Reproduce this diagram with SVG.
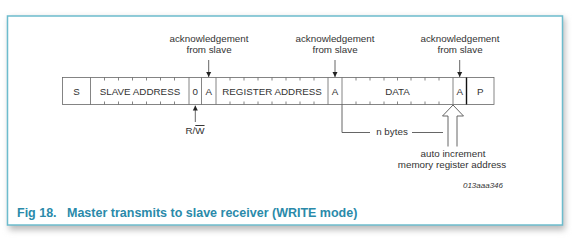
<svg xmlns="http://www.w3.org/2000/svg" width="580" height="239" viewBox="0 0 580 239">
<defs>
<style>
.t{font-family:"Liberation Sans",Arial,sans-serif;font-size:9.8px;fill:#333;text-anchor:middle}
.cell{fill:none;stroke:#666;stroke-width:0.8}
.tick{stroke:#666;stroke-width:0.8}
.ln{stroke:#555;stroke-width:0.9;fill:none}
.cap{font-family:"Liberation Sans",Arial,sans-serif;font-size:12.5px;font-weight:bold;fill:#2a8aaa}
</style>
<marker id="ah" viewBox="0 0 10 10" refX="10" refY="5" markerWidth="5" markerHeight="6" orient="auto" markerUnits="userSpaceOnUse">
<path d="M0,0 L10,5 L0,10 z" fill="#222"/>
</marker>
<filter id="sh" x="-5%" y="-5%" width="110%" height="115%">
<feGaussianBlur stdDeviation="3"/>
</filter>
</defs>
<rect width="580" height="239" fill="#fff"/>
<rect x="9" y="18" width="556" height="212" fill="#bbb" filter="url(#sh)"/>
<rect x="7.5" y="16" width="555" height="209" fill="#fff" stroke="#6cbccd" stroke-width="1.5"/>

<g id="packet">
<rect class="cell" x="62.5" y="77.5" width="431.5" height="27"/>
<g class="tick">
<line x1="90.5" y1="77.5" x2="90.5" y2="104.5"/>
<line x1="189" y1="77.5" x2="189" y2="104.5"/>
<line x1="201.5" y1="77.5" x2="201.5" y2="104.5"/>
<line x1="216" y1="77.5" x2="216" y2="104.5"/>
<line x1="328" y1="77.5" x2="328" y2="104.5"/>
<line x1="342" y1="77.5" x2="342" y2="104.5"/>
<line x1="453" y1="77.5" x2="453" y2="104.5"/>
</g>
<line x1="466.5" y1="77.5" x2="466.5" y2="104.5" stroke="#111" stroke-width="1.4"/>
<path class="tick" d="M104.5,77.5v3M118.5,77.5v3M132.5,77.5v3M146.5,77.5v3M160.5,77.5v3M174.5,77.5v3M104.5,104.5v-3M118.5,104.5v-3M132.5,104.5v-3M146.5,104.5v-3M160.5,104.5v-3M174.5,104.5v-3"/>
<path class="tick" d="M230,77.5v3M244,77.5v3M258,77.5v3M272,77.5v3M286,77.5v3M300,77.5v3M314,77.5v3M230,104.5v-3M244,104.5v-3M258,104.5v-3M272,104.5v-3M286,104.5v-3M300,104.5v-3M314,104.5v-3"/>
<path class="tick" d="M356,77.5v3M370,77.5v3M384,77.5v3M397.5,77.5v3M411,77.5v3M425,77.5v3M439,77.5v3M356,104.5v-3M370,104.5v-3M384,104.5v-3M397.5,104.5v-3M411,104.5v-3M425,104.5v-3M439,104.5v-3"/>
<text class="t" x="76.5" y="95">S</text>
<text class="t" x="140" y="95">SLAVE ADDRESS</text>
<text class="t" x="195.3" y="95">0</text>
<text class="t" x="208.7" y="95">A</text>
<text class="t" x="272" y="95">REGISTER ADDRESS</text>
<text class="t" x="335" y="95">A</text>
<text class="t" x="397.5" y="95">DATA</text>
<text class="t" x="459.7" y="95">A</text>
<text class="t" x="480.3" y="95">P</text>
</g>

<g id="ack1">
<text class="t" x="209" y="42">acknowledgement</text>
<text class="t" x="209" y="53">from slave</text>
</g>
<g id="ack2">
<text class="t" x="335" y="42">acknowledgement</text>
<text class="t" x="335" y="53">from slave</text>
</g>
<g id="ack3">
<text class="t" x="460" y="42">acknowledgement</text>
<text class="t" x="460" y="53">from slave</text>
</g>
<g id="rw">
<text class="t" x="195" y="134">R/<tspan text-decoration="overline">W</tspan></text>
</g>
<g id="nbytes">
<text class="t" x="392" y="135">n bytes</text>
</g>
<g id="autoinc">
<text class="t" x="453" y="157">auto increment</text>
<text class="t" x="452" y="168">memory register address</text>
</g>
<text x="503" y="188" font-family="'Liberation Sans',Arial,sans-serif" font-size="8" font-style="italic" fill="#333" text-anchor="end">013aaa346</text>

<g id="connectors">
<line class="ln" x1="208.7" y1="60" x2="208.7" y2="77" marker-end="url(#ah)"/>
<line class="ln" x1="335" y1="60" x2="335" y2="77" marker-end="url(#ah)"/>
<line class="ln" x1="459.7" y1="60" x2="459.7" y2="77" marker-end="url(#ah)"/>
<line class="ln" x1="195.3" y1="122" x2="195.3" y2="105.5" marker-end="url(#ah)"/>
<path class="ln" d="M342,104.5 V132.5 H370 M412,132.5 H443"/>
<path d="M448,146.5 V116 H442.5 L453,105 L463.5,116 H457 V146.5" fill="#fff" stroke="#555" stroke-width="0.9"/>
</g>

<text class="cap" x="17" y="216.5">Fig 18.</text>
<text class="cap" x="67" y="216.5">Master transmits to slave receiver (WRITE mode)</text>
</svg>
